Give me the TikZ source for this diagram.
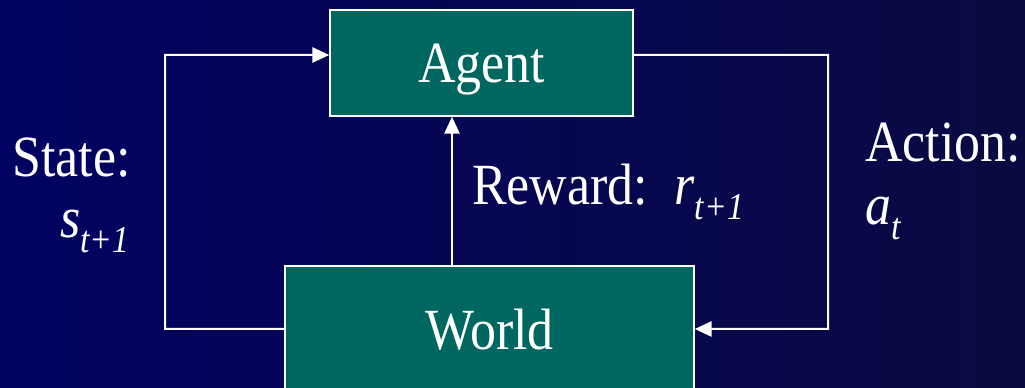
\documentclass[tikz,border=0pt]{standalone}
\usepackage{fontspec}
\setmainfont[FakeStretch=0.89]{Liberation Serif}
\usepackage{tikz}
\usetikzlibrary{arrows.meta,positioning,calc}
\definecolor{bgleft}{RGB}{2,2,98}
\definecolor{bgright}{RGB}{10,10,66}
\definecolor{boxteal}{RGB}{0,102,96}
\newcommand{\lowidx}[1]{\raisebox{-0.25em}{\fontsize{27}{27}\selectfont\itshape #1}}

\begin{document}
\begin{tikzpicture}[
  x=0.25mm, y=0.25mm,
  font=\fontsize{41.5}{48}\selectfont,
  box/.style={draw=white, line width=0.4mm, fill=boxteal, text=white,
              inner sep=0pt, text depth=0pt},
  lbl/.style={text=white, inner sep=0pt, anchor=base west},
  flow/.style={draw=white, line width=0.5mm},
  >={Triangle[length=4.2mm, width=3.8mm]},
]
\useasboundingbox (0,0) rectangle (1025,388);
\clip (0,0) rectangle (1025,388);
\shade[left color=bgleft, right color=bgright] (0,0) rectangle (1025,388);

\node[box, minimum width=75.75mm, minimum height=26.5mm] (agent) at (481.5,325) {Agent};
\node[box, minimum width=102.25mm, minimum height=31.5mm] (world) at (489.5,59) {World};

\coordinate (sl) at (165,333);
\coordinate (sr) at (828,333);
\coordinate (rw) at (452,0);

\draw[flow, ->] (world.west) -| (sl) -- ([yshift=2mm]agent.west);
\draw[flow, ->] ([yshift=2mm]agent.east) -- (sr) |- (world.east);
\draw[flow, ->] (world.north -| rw) -- (agent.south -| rw);

\node[lbl] (state) at (12,211) {State:};
\node[lbl] (stv) at (60,150) {\textit{s}\lowidx{t+1}};
\node[lbl] (rew) at (472,183) {Reward:\hspace{0.45em}\textit{r}\lowidx{t+1}};
\node[lbl] (act) at (865,226) {Action:};
\node[lbl] (atv) at (865,163) {\textit{a}\lowidx{t}};
\end{tikzpicture}
\end{document}
